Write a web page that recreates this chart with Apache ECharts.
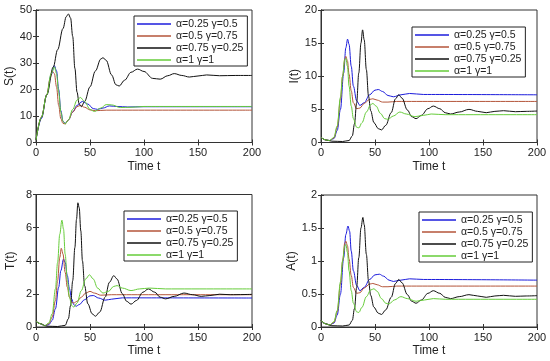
<!DOCTYPE html>
<html>
<head>
<meta charset="utf-8">
<script src="https://cdn.jsdelivr.net/npm/echarts@6/dist/echarts.min.js"></script>
<style>html,body{margin:0;padding:0;background:#fff}#c{width:550px;height:361px}</style>
</head>
<body>
<div id="c"></div>
<script>
// ---- legend names ----
const names = ['α=0.25 γ=0.5', 'α=0.5 γ=0.75', 'α=0.75 γ=0.25', 'α=1 γ=1'];
const xTicks = [0, 50, 100, 150, 200];

// ---- S(t) ----
const S_blue = [[0,1],[5,9],[10,18],[14,25.5],[17,29],[19,27],[21,20],[23,12],[25,8],[27,7.2],[30,8.5],[34,11.5],[38,14],[43,15.5],[48,14.5],[53,12.8],[57,12.5],[62,13],[68,13.8],[75,13.6],[85,13.4],[100,13.5],[200,13.5]];
const S_brown = [[0,1],[5,9.5],[10,18],[13,24],[15,27],[17,26],[19,21],[21,14],[23,9],[25,7.2],[27,7],[30,8.5],[34,11.5],[38,13.5],[41,14],[45,13.3],[50,12.3],[55,12],[65,12.2],[200,12.2]];
const S_black = [[0,1],[5,9.5],[10,18],[16,28.5],[20,35],[25,43],[28,47.5],[30,48.5],[32,47],[34,40],[36,28],[38,19],[40,14.5],[42,13.5],[45,15.5],[50,21],[55,27],[60,31.5],[62,32],[65,31],[70,25.5],[74,21.8],[77,21.3],[82,23.5],[88,26.5],[94,27.7],[100,26.8],[108,24.2],[115,23.9],[122,25.2],[128,26],[135,25.3],[142,24.7],[150,25.1],[158,25.5],[170,25.2],[185,25.3],[200,25.3]];
const S_green = [[0,1],[5,9.5],[10,18],[14,26],[17,28.5],[19,26],[21,19],[23,11.5],[25,8],[27,7],[30,8.5],[34,12.5],[38,16],[41,17],[45,15.5],[50,12.5],[54,11.7],[60,13],[65,14.3],[70,14.2],[78,13.2],[88,13.3],[100,13.6],[200,13.6]];

// ---- I(t) ----
const I_blue = [[0,0.8],[4,0.4],[8,0.3],[12,0.6],[15,1.8],[18,5],[21,10.5],[23,14.3],[24.6,15.6],[26,14.8],[28,11.5],[30,8.5],[33,6.3],[36,5.6],[40,6],[45,7.2],[50,7.9],[53,8],[57,7.7],[62,7.1],[67,6.9],[74,7.2],[82,7.4],[95,7.25],[200,7.2]];
const I_brown = [[0,0.8],[4,0.4],[8,0.3],[12,0.7],[15,2.3],[18,6.5],[20,10],[22,12.6],[23,13],[24.5,12.3],[26,10.3],[28,7.8],[30,6],[33,5.1],[36,5.2],[40,5.9],[45,6.5],[48,6.6],[52,6.4],[57,6.1],[62,6.1],[70,6.2],[200,6.2]];
const I_black = [[0,0.8],[4,0.4],[10,0.2],[20,0.15],[26,0.3],[29,1],[31,2.8],[33,6],[35,10.5],[37,15],[38.5,17],[40,15.5],[42,11],[44,7],[46,4.8],[49,3],[53,2.1],[56,1.9],[60,2.6],[65,4.5],[69,6.6],[72,7.2],[75,6.7],[80,4.9],[84,3.9],[88,3.6],[93,4.1],[99,5.1],[104,5.5],[110,5.1],[115,4.5],[120,4.3],[128,4.6],[137,5],[145,4.7],[153,4.5],[161,4.7],[169,4.8],[180,4.65],[190,4.7],[200,4.75]];
const I_green = [[0,0.8],[4,0.4],[8,0.3],[12,0.8],[15,2.5],[18,6.8],[20,10],[22,12.5],[23,12.7],[24.5,11.5],[26,8.5],[28,5.5],[30,3.6],[33,2.3],[35,2.2],[38,3],[42,4.6],[46,5.7],[48,5.9],[51,5.5],[55,4.4],[59,3.6],[62,3.5],[67,4],[73,4.6],[79,4.3],[87,3.9],[95,4.1],[102,4.3],[115,4.2],[200,4.2]];

// ---- T(t) ----
const T_blue = [[0,0.35],[4,0.2],[8,0.08],[12,0.15],[15,0.4],[18,1.1],[21,2.4],[23,3.4],[25.5,4.1],[27,3.9],[29,3.1],[31,2.3],[33,1.7],[35,1.35],[37,1.25],[40,1.35],[45,1.65],[50,1.88],[53,1.9],[58,1.75],[64,1.62],[70,1.68],[80,1.76],[200,1.75]];
const T_brown = [[0,0.35],[4,0.2],[8,0.08],[12,0.2],[15,0.6],[18,1.6],[20,2.8],[22,4.2],[23.4,4.75],[25,4.4],[27,3.3],[29,2.4],[31,1.8],[33,1.5],[35,1.45],[38,1.55],[42,1.8],[46,2.05],[50,2.15],[54,2.05],[60,1.92],[70,1.95],[200,1.95]];
const T_black = [[0,0.35],[4,0.2],[10,0.05],[20,0.03],[27,0.1],[30,0.5],[32,1.3],[34,2.8],[36,4.8],[37.5,6.5],[38.8,7.5],[40,7.2],[41.5,5.8],[43,4],[45,2.5],[48,1.4],[52,0.8],[55,0.65],[59,0.9],[64,1.8],[68,2.7],[72,3.1],[75,2.9],[80,2],[84,1.55],[88,1.38],[93,1.6],[99,2.1],[104,2.3],[110,2.1],[115,1.8],[120,1.7],[128,1.85],[137,2.05],[145,1.95],[153,1.85],[161,1.9],[170,1.98],[180,1.95],[200,1.97]];
const T_green = [[0,0.35],[4,0.2],[8,0.08],[12,0.25],[15,0.8],[18,2.3],[20,3.9],[22,5.6],[24,6.45],[25.5,5.9],[27,4.4],[29,2.8],[31,1.8],[33,1.3],[35,1.2],[38,1.45],[42,2.2],[46,2.9],[49.5,3.15],[53,2.9],[57,2.35],[62,2.05],[67,2.15],[72,2.45],[75,2.5],[80,2.35],[88,2.2],[96,2.3],[105,2.35],[120,2.3],[200,2.3]];

// ---- A(t) ----
const A_blue = [[0,0.1],[4,0.05],[8,0.03],[12,0.06],[15,0.18],[18,0.5],[21,1.05],[23,1.4],[25,1.53],[26.5,1.45],[28,1.15],[30,0.85],[33,0.63],[36,0.55],[40,0.6],[45,0.72],[50,0.79],[54,0.8],[58,0.77],[63,0.71],[67,0.69],[74,0.71],[82,0.73],[95,0.72],[200,0.71]];
const A_brown = [[0,0.1],[4,0.05],[8,0.03],[12,0.07],[15,0.23],[18,0.65],[20,1],[22,1.27],[23,1.3],[24.5,1.23],[26,1.03],[28,0.78],[30,0.6],[33,0.51],[36,0.52],[40,0.59],[45,0.65],[48,0.66],[52,0.64],[57,0.61],[62,0.61],[70,0.62],[200,0.62]];
const A_black = [[0,0.1],[4,0.05],[10,0.02],[20,0.015],[26,0.03],[29,0.1],[31,0.28],[33,0.6],[35,1.05],[37,1.5],[38.8,1.66],[40,1.55],[42,1.1],[44,0.7],[46,0.48],[49,0.3],[53,0.21],[56,0.19],[60,0.26],[65,0.45],[69,0.66],[72,0.72],[75,0.67],[80,0.49],[84,0.39],[88,0.36],[93,0.41],[99,0.51],[104,0.55],[110,0.51],[115,0.45],[120,0.43],[128,0.46],[137,0.49],[145,0.47],[153,0.45],[161,0.47],[169,0.48],[180,0.465],[190,0.47],[200,0.475]];
const A_green = [[0,0.1],[4,0.05],[8,0.03],[12,0.08],[15,0.25],[18,0.68],[20,1],[22,1.23],[23,1.25],[24.5,1.13],[26,0.85],[28,0.55],[30,0.36],[33,0.23],[35,0.22],[38,0.3],[42,0.46],[46,0.56],[49,0.58],[52,0.54],[56,0.43],[60,0.36],[63,0.35],[68,0.41],[74,0.46],[80,0.43],[88,0.39],[96,0.41],[104,0.43],[115,0.42],[200,0.42]];

const colors = ['#1c1cdc', '#b4553a', '#111111', '#66cc3a'];
const FONT = '"Liberation Sans", Arial, Helvetica, sans-serif';
const AX = '#333333';

const panels = [
  {name: 'S(t)', max: 50, interval: 10, data: [S_blue, S_brown, S_black, S_green], grid: {left: 36, top: 10, width: 216, height: 132.5}, legend: {left: 134, top: 16}},
  {name: 'I(t)', max: 20, interval: 5, data: [I_blue, I_brown, I_black, I_green], grid: {left: 321, top: 10, width: 216, height: 132.5}, legend: {left: 412, top: 27}},
  {name: 'T(t)', max: 8, interval: 2, data: [T_blue, T_brown, T_black, T_green], grid: {left: 36, top: 194.5, width: 216, height: 132.5}, legend: {left: 124, top: 211}},
  {name: 'A(t)', max: 2, interval: 0.5, data: [A_blue, A_brown, A_black, A_green], grid: {left: 321, top: 195, width: 216, height: 132}, legend: {left: 419, top: 212}}
];

const grid = [], xAxis = [], yAxis = [], series = [], legend = [];
panels.forEach((p, i) => {
  grid.push(Object.assign({show: true, borderColor: AX, borderWidth: 1, backgroundColor: '#fff', containLabel: false}, p.grid));
  const tick = {show: true, inside: true, length: 3, lineStyle: {color: AX, width: 1}};
  xAxis.push({type: 'value', gridIndex: i, min: 0, max: 200, interval: 50, position: 'bottom',
    name: 'Time t', nameLocation: 'middle', nameGap: 18, nameTextStyle: {fontSize: 12, color: '#222', fontFamily: FONT},
    axisLine: {show: true, lineStyle: {color: AX}}, axisTick: tick, splitLine: {show: false},
    axisLabel: {fontSize: 11, color: '#222', margin: 5, fontFamily: FONT}});
  xAxis.push({type: 'value', gridIndex: i, min: 0, max: 200, interval: 50, position: 'top',
    axisLine: {show: true, lineStyle: {color: AX}}, axisTick: tick, splitLine: {show: false}, axisLabel: {show: false}});
  yAxis.push({type: 'value', gridIndex: i, min: 0, max: p.max, interval: p.interval, position: 'left',
    name: p.name, nameLocation: 'middle', nameGap: 19, nameRotate: 90, nameTextStyle: {fontSize: 12, color: '#222', fontFamily: FONT},
    axisLine: {show: true, lineStyle: {color: AX}}, axisTick: tick, splitLine: {show: false},
    axisLabel: {fontSize: 11, color: '#222', margin: 4, fontFamily: FONT}});
  yAxis.push({type: 'value', gridIndex: i, min: 0, max: p.max, interval: p.interval, position: 'right',
    axisLine: {show: true, lineStyle: {color: AX}}, axisTick: tick, splitLine: {show: false}, axisLabel: {show: false}});
  p.data.forEach((d, k) => {
    series.push({type: 'line', name: names[k], xAxisIndex: 2 * i, yAxisIndex: 2 * i, data: d,
      symbol: 'none', smooth: 0.35, smoothMonotone: 'x', lineStyle: {color: colors[k], width: 1}, itemStyle: {color: colors[k]},
      z: 2 + k, animation: false});
  });
  legend.push({data: names.map(n => ({name: n, icon: 'path://M0,0H68V3H0Z'})), orient: 'vertical', left: p.legend.left, top: p.legend.top,
    backgroundColor: '#fff', borderColor: '#222', borderWidth: 1, padding: [2, 4, 0, 3],
    itemWidth: 34, itemHeight: 12, itemGap: 0, selectedMode: false, symbolKeepAspect: true,
    textStyle: {fontSize: 10.5, lineHeight: 12, color: '#222', fontFamily: FONT}});
});

const chart = echarts.init(document.getElementById('c'), null, {renderer: 'canvas'});
chart.setOption({animation: false, color: colors, grid, xAxis, yAxis, series, legend});
</script>
</body>
</html>
